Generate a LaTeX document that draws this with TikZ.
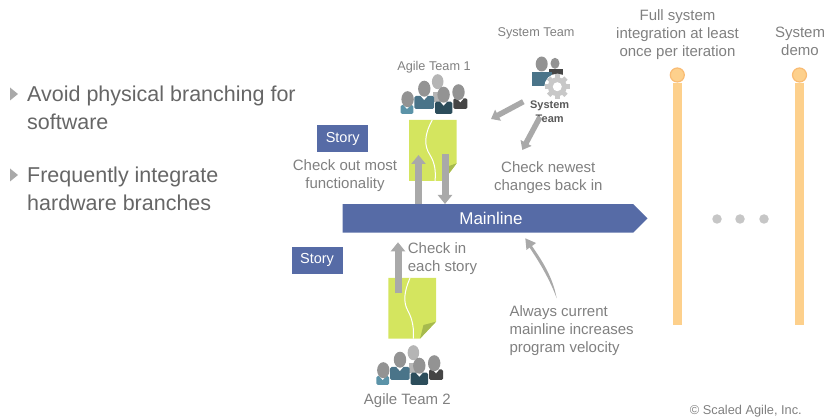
\documentclass[tikz,border=0pt]{standalone}
\usepackage{fontspec}
\setmainfont{Liberation Sans}
\usetikzlibrary{arrows.meta,shapes.symbols}
\definecolor{txtgray}{HTML}{808080}
\definecolor{bulletgray}{HTML}{666666}
\definecolor{storyblue}{HTML}{566BA6}
\definecolor{notegreen}{HTML}{D4E55F}
\definecolor{foldgreen}{HTML}{A6BA4E}
\definecolor{arrowgray}{HTML}{A9A9A9}
\definecolor{barorange}{HTML}{FDD08C}
\definecolor{ringorange}{HTML}{F9BC74}
\definecolor{headgray}{HTML}{939393}
\definecolor{backgray}{HTML}{B5B5B5}
\definecolor{midteal}{HTML}{4A7489}
\definecolor{leftteal}{HTML}{5B93A8}
\definecolor{frontteal}{HTML}{2C4D5B}
\definecolor{rightgray}{HTML}{454545}
\definecolor{geargray}{HTML}{C8C8C8}
\newcommand{\teamperson}[7]{
    \fill[#7, rounded corners=1.5] (#1,#3) rectangle (#2,#4);
    \fill[white] ({(#1+#2)/2-3.5},#3) -- ({(#1+#2)/2+3.5},#3) -- ({(#1+#2)/2},#3+4) -- cycle;
    \fill[headgray] (#5,#6) ellipse [x radius=6.2, y radius=8];
}
\tikzset{
    lbl/.style={text=txtgray, inner sep=0pt, align=center, font=\fontsize{15}{18}\selectfont},
    lblsmall/.style={lbl, font=\fontsize{12.7}{15}\selectfont},
    lblleft/.style={lbl, align=left, anchor=west},
    bullettxt/.style={text=bulletgray, inner sep=0pt, align=left, anchor=west, font=\fontsize{21.5}{27.5}\selectfont},
    bulletmark/.style={fill=arrowgray, inner sep=0pt},
    storybox/.style={fill=storyblue, text=white, inner sep=0pt, minimum width=51, minimum height=27, font=\fontsize{14.5}{16}\selectfont},
    thickarrow/.style={draw=arrowgray, line width=7, -{Triangle[length=9, width=14]}},
    thinarrow/.style={draw=arrowgray, line width=5.5, -{Triangle[length=8, width=12]}},
    bar/.style={draw=barorange, line width=9},
    ring/.style={circle, fill=barorange, draw=ringorange, line width=1.2, minimum size=14, inner sep=0pt},
    dot/.style={circle, fill=gray!45, minimum size=9.5, inner sep=0pt},
    agileteam/.pic={
        \fill[backgray] (2.7,-20) ellipse [x radius=5.8, y radius=7.5];
        \fill[backgray] (-2,-10) rectangle (8,0);
        \teamperson{-20.7}{-1}{-5.7}{7.3}{-10.7}{-13}{midteal}
        \teamperson{-34.3}{-21.7}{3.3}{12.3}{-27.4}{-2.5}{leftteal}
        \teamperson{18.3}{32.3}{-3.4}{7.3}{23.5}{-9.5}{rightgray}
        \teamperson{0}{17.3}{0}{12.3}{8.6}{-7}{frontteal}
    }
}
\begin{document}
\begin{tikzpicture}[x=1pt,y=-1pt]
            \useasboundingbox (0,0) rectangle (825,419);
            
            \fill[bulletmark] (10,87.5) -- (18,94) -- (10,100.5) -- cycle;
            \fill[bulletmark] (10,168.5) -- (18,175) -- (10,181.5) -- cycle;
            \node[bullettxt] (avoid) at (27,108) {Avoid physical branching for\\software};
            \node[bullettxt] (integrate) at (27,189) {Frequently integrate\\hardware branches};
            
            \fill[notegreen] (409,120) -- (456.7,120) -- (456.7,163.3) -- (443.3,181) -- (409,181) -- cycle;
            \fill[foldgreen] (456.7,163.3) -- (443.3,181) -- (446,167) -- cycle;
            \draw[white, line width=1] (432.3,120) .. controls (424,135) and (424,146) .. (430,155) .. controls (435,163) and (436,172) .. (435,181);
            
            \fill[notegreen] (388.3,278) -- (436,278) -- (436,321.7) -- (420,338.7) -- (388.3,338.7) -- cycle;
            \fill[foldgreen] (436,321.7) -- (420,338.7) -- (423.5,325) -- cycle;
            \draw[white, line width=1] (410,278) .. controls (404,292) and (403,302) .. (408,311) .. controls (413,320) and (414,330) .. (413.3,338.7);
            
            \node[signal, signal to=east, signal from=nowhere, fill=storyblue, minimum width=305, minimum height=28.7, inner sep=0pt] (mainline) at (487.9,218.4) {};
            \node[text=white, inner sep=0pt, font=\fontsize{17}{18}\selectfont] (mainlinetxt) at (491,218.7) {Mainline};
            
            \coordinate (outstart) at (418.5,204);
            \coordinate (outend) at (418.5,155);
            \coordinate (backstart) at (445,154);
            \coordinate (backend) at (445,204);
            \coordinate (instart) at (398,293.3);
            \coordinate (inend) at (398,242.3);
            \coordinate (sysstart) at (523.3,101.7);
            \coordinate (sysend) at (491,119);
            \coordinate (newstart) at (540,117);
            \coordinate (newend) at (522.3,150);
            
            \draw[thickarrow] (outstart) -- (outend);
            \draw[thickarrow] (backstart) -- (backend);
            \draw[thickarrow] (instart) -- (inend);
            \draw[thinarrow] (sysstart) -- (sysend);
            
            \pic (teamone) at (435,101.7) {agileteam};
            \pic (teamtwo) at (410.7,372.7) {agileteam};
            
            \fill[rightgray] (549,69) rectangle (563,75);
            \fill[midteal] (531.7,71.7) rectangle (552,86);
            \fill[headgray] (541.7,64) ellipse [x radius=6, y radius=7.5];
            \fill[headgray] (555,63.3) ellipse [x radius=4.5, y radius=5.5];
            \fill[white] (557.3,86.7) circle [radius=13];
            \foreach \a in {0,45,...,315}
                \fill[geargray, rotate around={\a:(557.3,86.7)}] (555,74.5) rectangle (559.6,78);
            \fill[geargray] (557.3,86.7) circle [radius=9.5];
            \fill[white] (557.3,86.7) circle [radius=4.5];
            \node[text=black!65, inner sep=0pt, align=center, font=\fontsize{11}{13.5}\bfseries\selectfont] (systxt) at (549.7,111.7) {System\\Team};
            \draw[thinarrow] (newstart) -- (newend);
            
            \node[storybox] (storyone) at (342.7,138.8) {Story};
            \node[storybox] (storytwo) at (317,260.3) {Story};
            
            \node[lblsmall] (teamonetxt) at (434,67.5) {Agile Team 1};
            \node[lbl] (teamtwotxt) at (407.3,400.5) {Agile Team 2};
            \node[lblsmall] (systemtxt) at (536,33.7) {System Team};
            \node[lbl] (outtxt) at (345,176) {Check out most\\functionality};
            \node[lbl] (newtxt) at (548.3,177.5) {Check newest\\changes back in};
            \node[lblleft] (intxt) at (407.7,258.5) {Check in\\each story};
            \node[lblleft] (velocitytxt) at (509.3,331) {Always current\\mainline increases\\program velocity};
            \node[lbl] (fulltxt) at (677.5,34.5) {Full system\\integration at least\\once per iteration};
            \node[lbl] (demotxt) at (800,41) {System\\demo};
            \node[text=txtgray, inner sep=0pt, anchor=east, font=\fontsize{12.8}{14}\selectfont] (copyright) at (802,411) {© Scaled Agile, Inc.};
            
            \fill[arrowgray] (556.7,298.3) .. controls (553,278) and (543,262) .. (532,246) -- (536,243) -- (525.3,238.3) -- (526.5,250) -- (529.5,247.5) .. controls (540,263) and (550,280) .. (556.7,298.3);
            
            \node[ring] (ringone) at (677.3,75) {};
            \coordinate (barone) at (677.3,325);
            \draw[bar] (ringone) -- (barone);
            \node[ring] (ringtwo) at (799.5,75) {};
            \coordinate (bartwo) at (799.5,325);
            \draw[bar] (ringtwo) -- (bartwo);
            
            \node[dot] (dotone) at (717,219) {};
            \node[dot] (dottwo) at (740,219) {};
            \node[dot] (dotthree) at (764,219) {};
\end{tikzpicture}
\end{document}
